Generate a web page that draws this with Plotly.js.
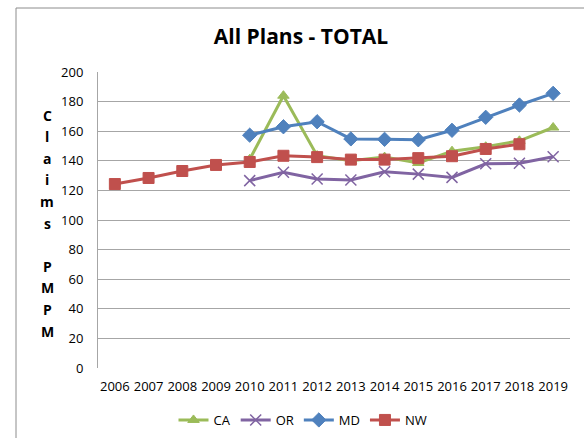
<!DOCTYPE html>
<html><head><meta charset="utf-8">
<script src="https://cdn.plot.ly/plotly-3.0.1.min.js"></script>
<style>body{margin:0;padding:0;background:#fff}#chart{width:584px;height:438px}</style>
</head><body><div id="chart"></div>
<script>
const years = ['2006','2007','2008','2009','2010','2011','2012','2013','2014','2015','2016','2017','2018','2019'];
const caValues = [null,null,null,null,141,184,143.5,140,142.5,138.5,146.5,149.5,153.5,162.5];
const orValues = [null,null,null,null,126.6,132.2,127.7,127,132.6,131,128.8,138,138.3,142.8];
const mdValues = [null,null,null,null,157.3,163,166.4,154.8,154.5,154.2,160.6,169.4,177.7,185.6];
const nwValues = [124.3,128.4,133.1,137.2,139.2,143.4,142.5,140.8,140.8,141.8,143.1,148,151.2,null];
const yTitleChars = ['C','l','a','i','m','s','','P','M','P','M'];

const mk = (name, y, color, symbol, size) => ({
  type:'scatter', mode:'lines+markers', name:name, x:years, y:y,
  line:{color:color, width:3}, connectgaps:false,
  marker:{symbol:symbol, size:size, color:color, line:{color:color, width: symbol==='x-thin-open' ? 1.5 : 1}}
});

const traces = [
  mk('CA', caValues, '#9BBB59', 'triangle-up', 10),
  mk('OR', orValues, '#8064A2', 'x-thin-open', 11),
  mk('MD', mdValues, '#4F81BD', 'diamond', 11),
  mk('NW', nwValues, '#C0504D', 'square', 11)
];

const annotations = yTitleChars.map((c, i) => ({
  text: c ? '<b>'+c+'</b>' : '', xref:'paper', yref:'paper',
  x: (47-98)/472, y: (368-(115+i*21.6))/296, showarrow:false,
  xanchor:'center', yanchor:'middle',
  font:{family:'Open Sans, Noto Sans, sans-serif', size:14, color:'#000'}
}));

const layout = {
  width:584, height:438,
  margin:{l:98, r:14, t:72, b:70},
  paper_bgcolor:'#fff', plot_bgcolor:'#fff',
  font:{family:'Open Sans, Noto Sans, sans-serif', size:13, color:'#000'},
  title:{text:'<b>All Plans - TOTAL</b>', x:301/584, xanchor:'center', xref:'container', y:1-37/438, yref:'container', yanchor:'middle',
    font:{family:'Open Sans, Noto Sans, sans-serif', size:21, color:'#000'}},
  xaxis:{type:'category', range:[-0.5,13.5], showgrid:false, zeroline:false, showline:false,
    ticks:'', ticklabelstandoff:9, tickfont:{size:13}, fixedrange:true},
  yaxis:{range:[0,200], dtick:20, showgrid:true, gridcolor:'#A6A6A6', gridwidth:1,
    zeroline:false, showline:true, linecolor:'#A6A6A6', linewidth:1, mirror:false,
    ticks:'', ticklabelstandoff:11, tickfont:{size:13}, fixedrange:true},
  showlegend:true,
  legend:{orientation:'h', xref:'container', yref:'container', x:303/584, xanchor:'center', y:1-420/438, yanchor:'middle',
    font:{size:13}, bgcolor:'rgba(0,0,0,0)'},
  annotations: annotations,
  shapes:[{type:'rect', xref:'paper', yref:'paper', x0:(16-98)/472, x1:1.2, y0:-0.5, y1:(368-8)/296,
    line:{color:'#8C8C8C', width:1}, fillcolor:'rgba(0,0,0,0)', layer:'below'}]
};

Plotly.newPlot('chart', traces, layout, {displayModeBar:false, staticPlot:true});
</script></body></html>
